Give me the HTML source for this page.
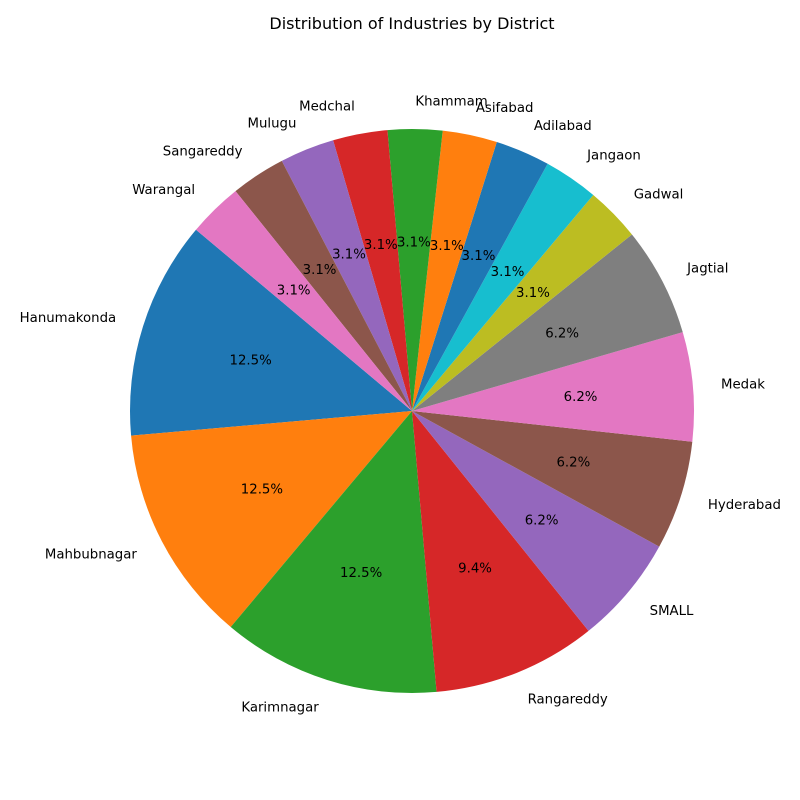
<!DOCTYPE html>
<html><head><meta charset="utf-8"><style>
body{margin:0;background:#fff}
svg{display:block;font-family:"DejaVu Sans","Liberation Sans",sans-serif}
</style></head><body>
<svg id="chart" width="800" height="800" viewBox="0 0 800 800">
<text x="412" y="29" text-anchor="middle" font-size="16">Distribution of Industries by District</text>
<g id="slices"></g><g id="labels"></g>
</svg>
<script>
const categories=["Hanumakonda","Mahbubnagar","Karimnagar","Rangareddy","SMALL","Hyderabad","Medak","Jagtial","Gadwal","Jangaon","Adilabad","Asifabad","Khammam","Medchal","Mulugu","Sangareddy","Warangal"];
const values=[4,4,4,3,2,2,2,2,1,1,1,1,1,1,1,1,1];
const colors=["#1f77b4","#ff7f0e","#2ca02c","#d62728","#9467bd","#8c564b","#e377c2","#7f7f7f","#bcbd22","#17becf"];
const cx=412,cy=411,R=282,startAngle=140;
const total=values.reduce((a,b)=>a+b,0);
const ns="http://www.w3.org/2000/svg";
const gS=document.getElementById('slices'),gL=document.getElementById('labels');
function pt(a,r){const t=a*Math.PI/180;return [cx+r*Math.cos(t),cy-r*Math.sin(t)];}
function fmt(x){const s=x*10,f=Math.floor(s);let r;if(Math.abs(s-f-0.5)<1e-9){r=(f%2===0)?f:f+1;}else r=Math.round(s);return (r/10).toFixed(1)+'%';}
let a0=startAngle;
values.forEach((v,i)=>{
 const sweep=v/total*360,a1=a0+sweep;
 const p0=pt(a0,R),p1=pt(a1,R);
 const p=document.createElementNS(ns,'path');
 p.setAttribute('d',`M${cx},${cy} L${p0[0]},${p0[1]} A${R},${R} 0 ${sweep>180?1:0} 0 ${p1[0]},${p1[1]} Z`);
 p.setAttribute('fill',colors[i%10]);
 
 
 gS.appendChild(p);
 const m=(a0+a1)/2;
 const lp=pt(m,R*1.1);
 const t=document.createElementNS(ns,'text');
 t.setAttribute('x',lp[0]);t.setAttribute('y',lp[1]+4.5);
 t.setAttribute('font-size','13.3');
 t.setAttribute('text-anchor',Math.cos(m*Math.PI/180)>=0?'start':'end');
 t.textContent=categories[i];
 
 
 gL.appendChild(t);
 const pp=pt(m,R*0.6);
 const q=document.createElementNS(ns,'text');
 q.setAttribute('x',pp[0]);q.setAttribute('y',pp[1]+4.5);
 q.setAttribute('font-size','13.3');q.setAttribute('text-anchor','middle');
 q.textContent=fmt(v/total*100);
 
 
 gL.appendChild(q);
 a0=a1;
});
</script>
</body></html>
